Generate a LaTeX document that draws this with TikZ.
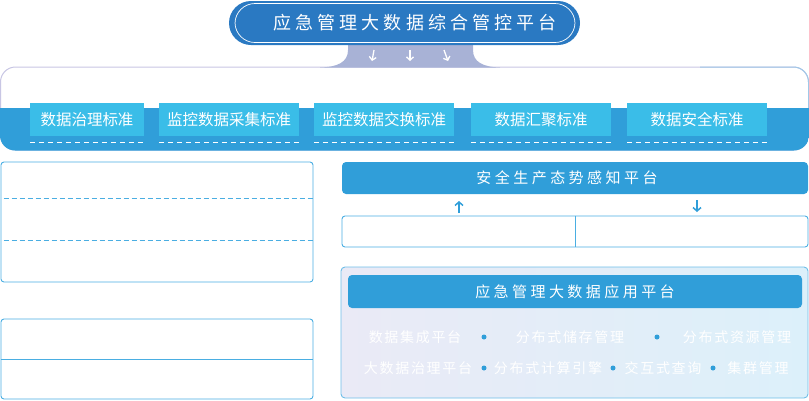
\documentclass[tikz,border=0pt]{standalone}
\usepackage{fontspec}
\newfontfamily\cjk{Noto Sans CJK SC}
\newfontfamily\cjkwide[LetterSpace=23]{Noto Sans CJK SC}
\newfontfamily\cjkmid[LetterSpace=12]{Noto Sans CJK SC}
\usetikzlibrary{arrows.meta}
\definecolor{pillblue}{RGB}{42,121,194}
\definecolor{stemc}{RGB}{168,178,214}
\definecolor{bandblue}{RGB}{48,158,217}
\definecolor{stdblue}{RGB}{58,189,232}
\definecolor{lineblue}{RGB}{74,174,226}
\definecolor{boxborder}{RGB}{200,198,228}
\definecolor{boxborderR}{RGB}{160,200,232}
\definecolor{panelL}{RGB}{234,234,246}
\definecolor{panelR}{RGB}{220,240,250}
\definecolor{panelborder}{RGB}{110,190,232}
\tikzset{
  stdbox/.style={fill=stdblue, text=white, minimum width=#1, minimum height=33pt, inner sep=0pt, font=\cjk\fontsize{15.5}{15.5}\selectfont},
  barbox/.style={fill=bandblue, rounded corners=4pt, text=white, inner sep=0pt, font=\cjkwide\fontsize{15}{15}\selectfont},
  itemtext/.style={text=white, inner sep=0pt, font=\cjkmid\fontsize{14}{14}\selectfont},
  bulletdot/.style={circle, fill=bandblue, inner sep=0pt, minimum size=5pt},
  thinbox/.style={draw=lineblue, line width=0.9pt, rounded corners=3pt},
  whitearrow/.style={draw=white, line width=1.3pt, -{Straight Barb[length=3.2pt,width=7pt]}},
  bluearrow/.style={draw=bandblue, line width=1.5pt, -{Straight Barb[length=3.5pt,width=8pt]}}
}
\begin{document}
\begin{tikzpicture}[x=1pt,y=-1pt]
\useasboundingbox (0,0) rectangle (809,400);
% big standards box
\draw[draw=boxborder, line width=1pt, fill=white, rounded corners=15pt] (0.5,67) rectangle (808.5,150);
\begin{scope}
\clip (700,60) rectangle (809,110);
\draw[draw=boxborderR, line width=1pt, rounded corners=15pt] (0.5,67) rectangle (808.5,150);
\end{scope}
\begin{scope}
\clip[rounded corners=15pt] (0,67) rectangle (809,150.5);
\fill[bandblue] (0,108) rectangle (809,151);
\end{scope}
% stem
\fill[stemc] (348,40) -- (348,50) .. controls (348,62) and (338,67) .. (320,67.5)
  -- (500,67.5) .. controls (483,67) and (473,62) .. (473,50) -- (473,40) -- cycle;
% title pill
\node[fill=pillblue, rounded corners=22pt, minimum width=351pt, minimum height=44pt, inner sep=0pt] (pill) at (404.5,23) {};
\draw[white, line width=0.7pt, rounded corners=20pt] (235,3.5) rectangle (575,42.5);
\node[text=white, inner sep=0pt, font=\cjkwide\fontsize{18}{18}\selectfont] (title) at (415,23) {应急管理大数据综合管控平台};
% stem arrows
\coordinate (a1s) at (374,50); \coordinate (a1e) at (372,61);
\coordinate (a2s) at (410,50); \coordinate (a2e) at (410,61);
\coordinate (a3s) at (444,50); \coordinate (a3e) at (448,61);
\draw[whitearrow] (a1s) -- (a1e);
\draw[whitearrow] (a2s) -- (a2e);
\draw[whitearrow] (a3s) -- (a3e);
% standards
\node[stdbox=114pt] (s1) at (87,119.5) {数据治理标准};
\node[stdbox=140pt] (s2) at (229,119.5) {监控数据采集标准};
\node[stdbox=140pt] (s3) at (384,119.5) {监控数据交换标准};
\node[stdbox=140pt] (s4) at (541,119.5) {数据汇聚标准};
\node[stdbox=140pt] (s5) at (697,119.5) {数据安全标准};
\foreach \n in {s1,s2,s3,s4,s5}{
  \draw[white, line width=0.8pt, dash pattern=on 5pt off 4pt] ([yshift=-6pt]\n.south west) -- ([yshift=-6pt]\n.south east);
}
% left boxes
\node[thinbox, minimum width=312pt, minimum height=120pt, inner sep=0pt] (lb1) at (157,222) {};
\draw[lineblue, line width=0.8pt, dash pattern=on 5pt off 3pt] ([yshift=-37pt]lb1.north west) ++(3,0) -- ([yshift=-37pt]lb1.north east);
\draw[lineblue, line width=0.8pt, dash pattern=on 5pt off 3pt] ([yshift=-79pt]lb1.north west) ++(3,0) -- ([yshift=-79pt]lb1.north east);
\node[thinbox, minimum width=312pt, minimum height=80pt, inner sep=0pt] (lb2) at (157,359) {};
\draw[lineblue, line width=0.8pt] (lb2.west) -- (lb2.east);
% situational awareness
\node[barbox, minimum width=466pt, minimum height=32pt] (sa) at (575,178) {};
\node[text=white, inner sep=0pt, font=\cjkwide\fontsize{15}{15}\selectfont] (satext) at (567,178) {安全生产态势感知平台};
\node[thinbox, minimum width=466pt, minimum height=31pt, inner sep=0pt] (sab) at (575,231.5) {};
\draw[lineblue, line width=0.9pt] (sab.north) -- (sab.south);
\coordinate (up1) at (459,213); \coordinate (up2) at (459,201);
\coordinate (dn1) at (697,200); \coordinate (dn2) at (697,212);
\draw[bluearrow] (up1) -- (up2);
\draw[bluearrow] (dn1) -- (dn2);
% application platform panel
\node[draw=panelborder, line width=0.9pt, rounded corners=4pt, left color=panelL, right color=panelR, minimum width=467pt, minimum height=131pt, inner sep=0pt] (panel) at (574.5,332.5) {};
\node[barbox, minimum width=454pt, minimum height=33pt] (app) at (575,291.5) {应急管理大数据应用平台};
\node[itemtext] (i1) at (415,337) {数据集成平台};
\node[bulletdot] (b1) at (484,337) {};
\node[itemtext] (i2) at (570,337) {分布式储存管理};
\node[bulletdot] (b2) at (657,337) {};
\node[itemtext] (i3) at (737,337) {分布式资源管理};
\node[itemtext] (j1) at (418,368) {大数据治理平台};
\node[bulletdot] (c1) at (484,368) {};
\node[itemtext] (j2) at (548,368) {分布式计算引擎};
\node[bulletdot] (c2) at (613,368) {};
\node[itemtext] (j3) at (663,368) {交互式查询};
\node[bulletdot] (c3) at (713,368) {};
\node[itemtext] (j4) at (758,368) {集群管理};
\end{tikzpicture}
\end{document}
